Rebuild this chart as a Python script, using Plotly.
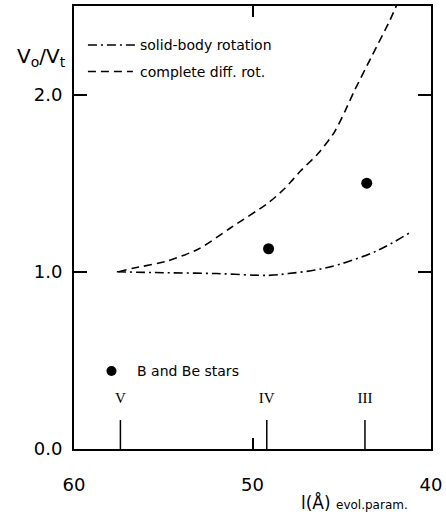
import plotly.graph_objects as go

# Curves
diff_rot_x = [57.5, 56.7, 54.8, 53.0, 51.2, 49.1, 48.2, 47.3, 46.3, 45.4, 44.8, 44.3, 43.3, 42.3, 41.9]
diff_rot_y = [1.00, 1.02, 1.06, 1.13, 1.25, 1.39, 1.47, 1.57, 1.67, 1.79, 1.91, 2.02, 2.22, 2.42, 2.51]

solid_x = [57.6, 55.0, 52.0, 49.1, 48.0, 46.5, 45.2, 43.0, 41.2]
solid_y = [1.00, 0.995, 0.99, 0.98, 0.99, 1.01, 1.04, 1.12, 1.22]

# B and Be stars
stars_x = [49.1, 43.6]
stars_y = [1.13, 1.50]

# Luminosity class markers
class_labels = ["V", "IV", "III"]
class_x = [57.4, 49.2, 43.7]
class_tick_top = 0.163
class_label_y = 0.28

FONT = "DejaVu Sans"

fig = go.Figure()

fig.add_trace(go.Scatter(x=diff_rot_x, y=diff_rot_y, mode="lines",
                         line=dict(color="black", width=1.6, dash="8px,5px"),
                         line_shape="spline", line_smoothing=0.7, hoverinfo="skip"))
fig.add_trace(go.Scatter(x=solid_x, y=solid_y, mode="lines",
                         line=dict(color="black", width=1.6, dash="9px,4px,2px,4px"),
                         line_shape="spline", hoverinfo="skip"))
fig.add_trace(go.Scatter(x=stars_x, y=stars_y, mode="markers",
                         marker=dict(color="black", size=11)))

# class ticks
tx, ty = [], []
for cx in class_x:
    tx += [cx, cx, None]
    ty += [0, class_tick_top, None]
fig.add_trace(go.Scatter(x=tx, y=ty, mode="lines",
                         line=dict(color="black", width=1.5), hoverinfo="skip"))
fig.add_trace(go.Scatter(x=class_x, y=[class_label_y] * len(class_x), mode="text",
                         text=class_labels,
                         textfont=dict(family="Liberation Serif", size=15, color="black")))

# legend for stars
fig.add_trace(go.Scatter(x=[57.9], y=[0.44], mode="markers",
                         marker=dict(color="black", size=10)))
fig.add_annotation(x=56.6, y=0.44, xref="x", yref="y", text="B and Be stars",
                   showarrow=False, xanchor="left", yanchor="middle",
                   font=dict(family=FONT, size=14, color="black"))

# line legend
fig.add_shape(type="line", xref="paper", yref="paper", x0=0.039, x1=0.172,
              y0=0.912, y1=0.912, line=dict(color="black", width=1.5, dash="9px,4px,2px,4px"))
fig.add_shape(type="line", xref="paper", yref="paper", x0=0.039, x1=0.165,
              y0=0.852, y1=0.852, line=dict(color="black", width=1.5, dash="8px,5px"))
fig.add_annotation(x=0.18, y=0.912, xref="paper", yref="paper", text="solid-body rotation",
                   showarrow=False, xanchor="left", yanchor="middle",
                   font=dict(family=FONT, size=14, color="black"))
fig.add_annotation(x=0.18, y=0.852, xref="paper", yref="paper", text="complete diff. rot.",
                   showarrow=False, xanchor="left", yanchor="middle",
                   font=dict(family=FONT, size=14, color="black"))

# axis titles
fig.add_annotation(x=-0.09, y=0.885, xref="paper", yref="paper",
                   text="V<sub>o</sub>/V<sub>t</sub>", showarrow=False,
                   xanchor="center", yanchor="middle",
                   font=dict(family=FONT, size=20, color="black"))
fig.add_annotation(x=0.785, y=-0.12, xref="paper", yref="paper",
                   text="l(Å) <span style='font-size:12px'>evol.param.</span>",
                   showarrow=False, xanchor="center", yanchor="middle",
                   font=dict(family=FONT, size=17, color="black"))

fig.update_layout(
    width=446, height=522, autosize=False,
    margin=dict(l=74, r=12, t=4, b=73),
    plot_bgcolor="white", paper_bgcolor="white",
    showlegend=False,
    font=dict(family=FONT, size=18, color="black"),
)
fig.update_xaxes(range=[60, 40], tickvals=[60, 50, 40], ticktext=["60", "50", "40"],
                 ticks="inside", ticklen=11, tickwidth=1.5, tickcolor="black",
                 showline=True, linecolor="black", linewidth=2, mirror="ticks",
                 showgrid=False, zeroline=False, ticklabelstandoff=18)
fig.update_yaxes(range=[0, 2.5], tickvals=[0, 1, 2], ticktext=["0.0", "1.0", "2.0"],
                 ticks="inside", ticklen=13, tickwidth=1.5, tickcolor="black",
                 showline=True, linecolor="black", linewidth=2, mirror="ticks",
                 showgrid=False, zeroline=False, ticklabelstandoff=6)

fig.write_html("out.html", config={"displayModeBar": False},
               post_script="document.body.style.margin='0';document.body.style.overflow='hidden';")
